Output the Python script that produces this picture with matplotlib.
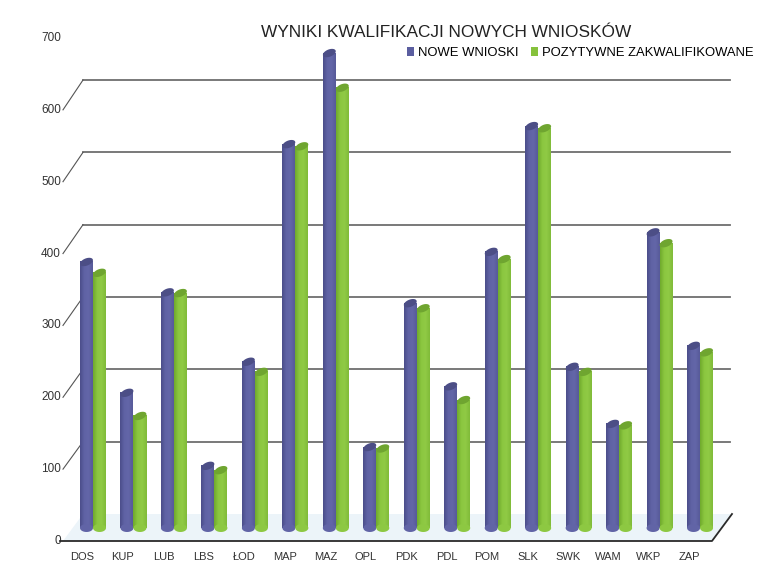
import numpy as np
import matplotlib.pyplot as plt
from matplotlib.patches import Polygon, Patch
from matplotlib.colors import LinearSegmentedColormap

plt.rcParams['font.family'] = ['Liberation Sans', 'DejaVu Sans']

# data
categories = ['DOS', 'KUP', 'LUB', 'LBS', 'ŁOD', 'MAP', 'MAZ', 'OPL',
              'PDK', 'PDL', 'POM', 'SLK', 'SWK', 'WAM', 'WKP', 'ZAP']
nowe = [368, 187, 326, 86, 230, 531, 657, 112, 311, 196, 382, 556, 223, 144, 409, 252]
pozytywne = [353, 155, 325, 80, 216, 528, 609, 110, 304, 177, 372, 553, 216, 142, 394, 243]
y_ticks = [0, 100, 200, 300, 400, 500, 600, 700]

title = 'WYNIKI KWALIFIKACJI NOWYCH WNIOSKÓW'
series_names = ['NOWE WNIOSKI', 'POZYTYWNE ZAKWALIFIKOWANE']

# pseudo 3d geometry (pixels)
X0, DX = 93, 40.47      # first category centre, step
Y0, SY = 528, 0.7229    # bar base, px per unit
BACK0, BACK_S = 514, 0.7233
FRONT0, FRONT_S = 541, 0.7186
LEFT_BACK, LEFT_FRONT = 83, 63
RIGHT_BACK, RIGHT_FRONT = 732, 712


def dx(p):
    return (p - X0) / DX


def dy(p):
    return (Y0 - p) / SY


fig = plt.figure(figsize=(7.64, 5.82), dpi=100)
ax = fig.add_axes([0, 0, 1, 1])
ax.axis('off')

# floor
floor = Polygon([(dx(LEFT_BACK), dy(BACK0)), (dx(RIGHT_BACK), dy(BACK0)),
                 (dx(RIGHT_FRONT), dy(FRONT0)), (dx(LEFT_FRONT), dy(FRONT0))],
                closed=True, facecolor='#ecf4f9', edgecolor='none', zorder=1)
ax.add_patch(floor)

# back wall gridlines + left slants + tick labels
for g in y_ticks:
    yb = BACK0 - g * BACK_S
    yf = FRONT0 - g * FRONT_S
    if 0 < g < 700:
        ax.plot([dx(LEFT_BACK), dx(RIGHT_BACK - 2)], [dy(yb), dy(yb)],
                color='#6e6e6e', lw=1.3, zorder=1.5)
        ax.plot([dx(LEFT_FRONT), dx(LEFT_BACK)], [dy(yf), dy(yb)],
                color='#555555', lw=0.8, zorder=1.5)
    ax.text(dx(61), dy(yf), str(g), ha='right', va='center',
            fontsize=8.5, color='#333333')

# front floor edge
ax.plot([dx(60), dx(RIGHT_FRONT), dx(RIGHT_BACK)],
        [dy(FRONT0), dy(FRONT0), dy(BACK0)], color='#2a2a2a', lw=1.3, zorder=6)

cmaps = [
    (LinearSegmentedColormap.from_list('b', ['#4b4d8a', '#6063a5', '#6366a8', '#575a99']), '#4c4e86'),
    (LinearSegmentedColormap.from_list('g', ['#6fa92c', '#8bc740', '#90ca45', '#80bb39']), '#6fa530'),
]


def ellipse(cx, cy, a, b, ang, n=40):
    t = np.linspace(0, 2 * np.pi, n)
    ex = a * np.cos(t)
    ey = b * np.sin(t)
    c, s = np.cos(np.radians(ang)), np.sin(np.radians(ang))
    px = ex * c - ey * s
    py = ex * s + ey * c
    return np.column_stack([dx(cx + px), (cy + py / SY)])


bw = 13  # bar width in px
grad = np.linspace(0, 1, 64).reshape(1, -1)
for k, vals in enumerate([nowe, pozytywne]):
    cmap, capc = cmaps[k]
    for i, v in enumerate(vals):
        cx = X0 + DX * i + (-6.5 if k == 0 else 6.5)
        l, r = dx(cx - bw / 2), dx(cx + bw / 2)
        z = 3 + 0.1 * k
        ax.imshow(grad, cmap=cmap, extent=(l, r, 0, v), aspect='auto',
                  interpolation='bilinear', zorder=z)
        ax.add_patch(Polygon(ellipse(cx, 0, bw / 2, 4, 0), closed=True,
                             facecolor=cmap(0.45), edgecolor='none', zorder=z))
        ax.add_patch(Polygon(ellipse(cx, v, bw / 2 + 0.3, 3.6, 22), closed=True,
                             facecolor=capc, edgecolor='none', zorder=z + 0.05))

# category labels
for i, c in enumerate(categories):
    ax.text(i - 0.26, dy(557), c, ha='center', va='center',
            fontsize=8, color='#333333')

ax.text(dx(446), dy(33), title, ha='center', va='center',
        fontsize=12.4, color='#222222')

handles = [Patch(facecolor='#5b5ea0', label=series_names[0]),
           Patch(facecolor='#86c23c', label=series_names[1])]
ax.legend(handles=handles, loc='upper right', bbox_to_anchor=(754 / 764, 1 - 47 / 582),
          ncol=2, frameon=False, fontsize=9.4, handlelength=0.6, handleheight=0.6,
          handletextpad=0.3, columnspacing=0.9, borderaxespad=0, borderpad=0)

ax.set_xlim(dx(0), dx(764))
ax.set_ylim(dy(582), dy(0))

fig.savefig('out.png', dpi=100)
